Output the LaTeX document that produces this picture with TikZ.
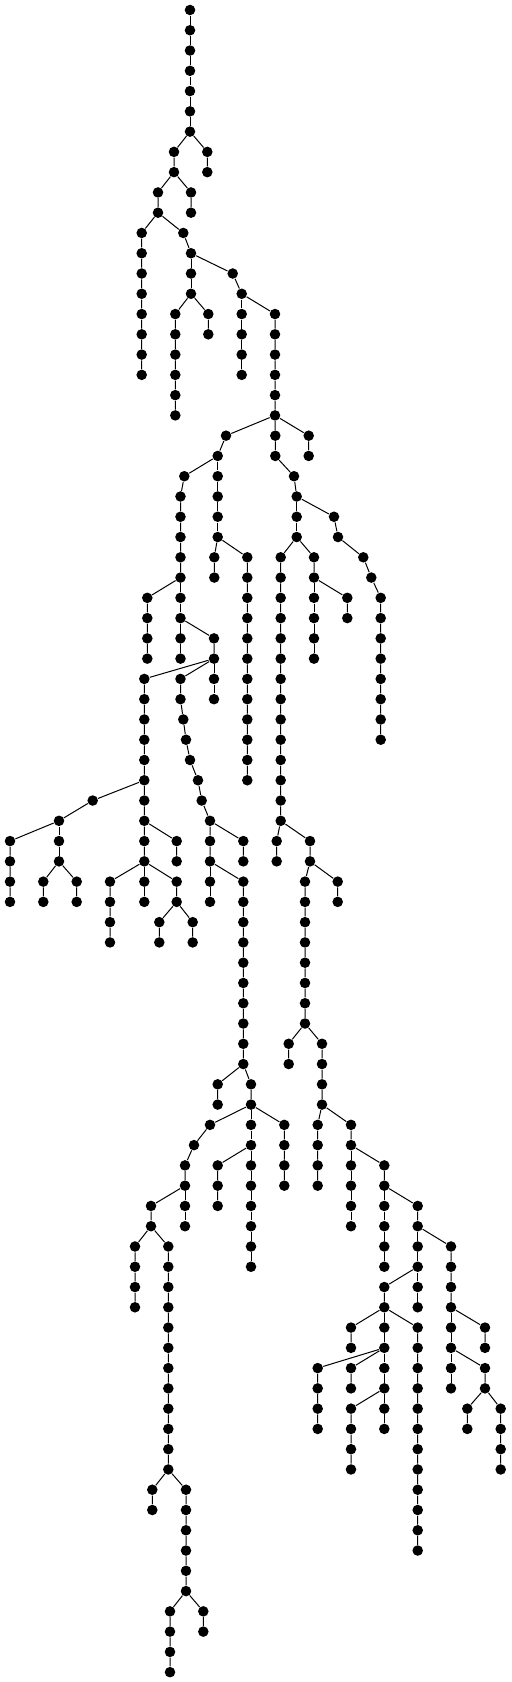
\documentclass[tikz,border=0pt]{standalone}
\usepackage{tikz}

\begin{document}
\begin{tikzpicture}[x=0.75pt, y=-15.2025pt, line width=0.75pt,
  vtx/.style={circle, fill=black, inner sep=0pt, minimum size=7.9pt}]

\useasboundingbox (0,-0.4933) rectangle (511,82.486);

\node[vtx] (r0) at (190,0) {};
\node[vtx] (r1) at (190,1) {};
\node[vtx] (r2) at (190,2) {};
\node[vtx] (r3) at (190,3) {};
\node[vtx] (r4) at (190,4) {};
\node[vtx] (r5) at (190,5) {};
\node[vtx] (r6) at (190,6) {};
\node[vtx] (ra7) at (174,7) {};
\node[vtx] (ra8) at (174,8) {};
\node[vtx] (rb7) at (207.3,7) {};
\node[vtx] (rb8) at (207.3,8) {};
\node[vtx] (rc9) at (158,9) {};
\node[vtx] (rc10) at (158,10) {};
\node[vtx] (rd9) at (191,9) {};
\node[vtx] (rd10) at (191,10) {};
\node[vtx] (re11) at (141.7,11) {};
\node[vtx] (re12) at (141.7,12) {};
\node[vtx] (re13) at (141.7,13) {};
\node[vtx] (re14) at (141.7,14) {};
\node[vtx] (re15) at (141.7,15) {};
\node[vtx] (re16) at (141.7,16) {};
\node[vtx] (re17) at (141.7,17) {};
\node[vtx] (re18) at (141.7,18) {};
\node[vtx] (rf11) at (183.3,11) {};
\node[vtx] (rf12) at (191,12) {};
\node[vtx] (rg13) at (191,13) {};
\node[vtx] (rg14) at (191,14) {};
\node[vtx] (rh15) at (175.3,15) {};
\node[vtx] (rh16) at (175.3,16) {};
\node[vtx] (rh17) at (175.3,17) {};
\node[vtx] (rh18) at (175.3,18) {};
\node[vtx] (rh19) at (175.3,19) {};
\node[vtx] (rh20) at (175.3,20) {};
\node[vtx] (ri15) at (208.3,15) {};
\node[vtx] (ri16) at (208.3,16) {};
\node[vtx] (rj13) at (232.7,13) {};
\node[vtx] (rj14) at (241.7,14) {};
\node[vtx] (rk15) at (241.7,15) {};
\node[vtx] (rk16) at (241.7,16) {};
\node[vtx] (rk17) at (241.7,17) {};
\node[vtx] (rk18) at (241.7,18) {};
\node[vtx] (rl15) at (275,15) {};
\node[vtx] (rl16) at (275,16) {};
\node[vtx] (rl17) at (275,17) {};
\node[vtx] (rl18) at (275,18) {};
\node[vtx] (rl19) at (275,19) {};
\node[vtx] (rl20) at (275,20) {};

\node[vtx] (la21) at (226,21) {};
\node[vtx] (la22) at (217.7,22) {};
\node[vtx] (lb23) at (217.7,23) {};
\node[vtx] (lb24) at (217.7,24) {};
\node[vtx] (lb25) at (217.7,25) {};
\node[vtx] (lb26) at (217.7,26) {};
\node[vtx] (lc27) at (214.3,27) {};
\node[vtx] (lc28) at (214.3,28) {};
\node[vtx] (ld27) at (247.3,27) {};
\node[vtx] (ld28) at (247.3,28) {};
\node[vtx] (ld29) at (247.3,29) {};
\node[vtx] (ld30) at (247.3,30) {};
\node[vtx] (ld31) at (247.3,31) {};
\node[vtx] (ld32) at (247.3,32) {};
\node[vtx] (ld33) at (247.3,33) {};
\node[vtx] (ld34) at (247.3,34) {};
\node[vtx] (ld35) at (247.3,35) {};
\node[vtx] (ld36) at (247.3,36) {};
\node[vtx] (ld37) at (247.3,37) {};
\node[vtx] (ld38) at (247.3,38) {};
\node[vtx] (le23) at (184.3,23) {};
\node[vtx] (le24) at (180.5,24) {};
\node[vtx] (le25) at (180.5,25) {};
\node[vtx] (le26) at (180.5,26) {};
\node[vtx] (le27) at (180.5,27) {};
\node[vtx] (le28) at (180.5,28) {};
\node[vtx] (lf29) at (147.3,29) {};
\node[vtx] (lf30) at (147.3,30) {};
\node[vtx] (lf31) at (147.3,31) {};
\node[vtx] (lf32) at (147.3,32) {};
\node[vtx] (lg29) at (180.5,29) {};
\node[vtx] (lg30) at (180.5,30) {};
\node[vtx] (lh31) at (180.5,31) {};
\node[vtx] (lh32) at (180.5,32) {};
\node[vtx] (li31) at (214,31) {};
\node[vtx] (li32) at (214,32) {};
\node[vtx] (lj33) at (214,33) {};
\node[vtx] (lj34) at (214,34) {};
\node[vtx] (lk33) at (144.3,33) {};
\node[vtx] (lk34) at (144.3,34) {};
\node[vtx] (lk35) at (144.3,35) {};
\node[vtx] (lk36) at (144.3,36) {};
\node[vtx] (lk37) at (144.3,37) {};
\node[vtx] (lk38) at (144.3,38) {};
\node[vtx] (lk39) at (144.3,39) {};
\node[vtx] (lk40) at (144.3,40) {};
\node[vtx] (lk41) at (144.3,41) {};
\node[vtx] (lk42) at (144.3,42) {};
\node[vtx] (ll39) at (92.7,39) {};
\node[vtx] (ll40) at (59,40) {};
\node[vtx] (lm41) at (10,41) {};
\node[vtx] (lm42) at (10,42) {};
\node[vtx] (lm43) at (10,43) {};
\node[vtx] (lm44) at (10,44) {};
\node[vtx] (ln41) at (59,41) {};
\node[vtx] (ln42) at (59,42) {};
\node[vtx] (lo43) at (43.3,43) {};
\node[vtx] (lo44) at (43.3,44) {};
\node[vtx] (lp43) at (76.7,43) {};
\node[vtx] (lp44) at (76.7,44) {};
\node[vtx] (lq41) at (176.7,41) {};
\node[vtx] (lq42) at (176.7,42) {};
\node[vtx] (lr43) at (110,43) {};
\node[vtx] (lr44) at (110,44) {};
\node[vtx] (lr45) at (110,45) {};
\node[vtx] (lr46) at (110,46) {};
\node[vtx] (ls43) at (144.3,43) {};
\node[vtx] (ls44) at (144.3,44) {};
\node[vtx] (lt43) at (176.7,43) {};
\node[vtx] (lt44) at (176.7,44) {};
\node[vtx] (lu45) at (159.3,45) {};
\node[vtx] (lu46) at (159.3,46) {};
\node[vtx] (lv45) at (192.7,45) {};
\node[vtx] (lv46) at (192.7,46) {};
\node[vtx] (lw33) at (180.5,33) {};
\node[vtx] (lw34) at (180.5,34) {};
\node[vtx] (lw35) at (183.3,35) {};
\node[vtx] (lw36) at (186,36) {};
\node[vtx] (lw37) at (190,37) {};
\node[vtx] (lw38) at (198,38) {};
\node[vtx] (lw39) at (201.7,39) {};
\node[vtx] (lw40) at (210,40) {};
\node[vtx] (lw41) at (210,41) {};
\node[vtx] (lw42) at (210,42) {};
\node[vtx] (lx41) at (243.3,41) {};
\node[vtx] (lx42) at (243.3,42) {};
\node[vtx] (ly43) at (210,43) {};
\node[vtx] (ly44) at (210,44) {};
\node[vtx] (lz43) at (243.3,43) {};
\node[vtx] (lz44) at (243.3,44) {};
\node[vtx] (lz45) at (243.3,45) {};
\node[vtx] (lz46) at (243.3,46) {};
\node[vtx] (lz47) at (243.3,47) {};
\node[vtx] (lz48) at (243.3,48) {};
\node[vtx] (lz49) at (243.3,49) {};
\node[vtx] (lz50) at (243.3,50) {};
\node[vtx] (lz51) at (243.3,51) {};
\node[vtx] (lz52) at (243.3,52) {};
\node[vtx] (ma53) at (217.7,53) {};
\node[vtx] (ma54) at (217.7,54) {};
\node[vtx] (mb53) at (251,53) {};
\node[vtx] (mb54) at (251,54) {};
\node[vtx] (mc55) at (210,55) {};
\node[vtx] (mc56) at (194,56) {};
\node[vtx] (mc57) at (185,57) {};
\node[vtx] (mc58) at (185,58) {};
\node[vtx] (md55) at (251,55) {};
\node[vtx] (md56) at (251,56) {};
\node[vtx] (me55) at (284.3,55) {};
\node[vtx] (me56) at (284.3,56) {};
\node[vtx] (me57) at (284.3,57) {};
\node[vtx] (me58) at (284.3,58) {};
\node[vtx] (mf57) at (217.7,57) {};
\node[vtx] (mf58) at (217.7,58) {};
\node[vtx] (mf59) at (217.7,59) {};
\node[vtx] (mg57) at (251,57) {};
\node[vtx] (mg58) at (251,58) {};
\node[vtx] (mg59) at (251,59) {};
\node[vtx] (mg60) at (251,60) {};
\node[vtx] (mg61) at (251,61) {};
\node[vtx] (mg62) at (251,62) {};
\node[vtx] (mh59) at (185,59) {};
\node[vtx] (mh60) at (185,60) {};
\node[vtx] (mi59) at (151,59) {};
\node[vtx] (mi60) at (151,60) {};
\node[vtx] (mj61) at (135,61) {};
\node[vtx] (mj62) at (135,62) {};
\node[vtx] (mj63) at (135,63) {};
\node[vtx] (mj64) at (135,64) {};
\node[vtx] (mk61) at (168.3,61) {};
\node[vtx] (mk62) at (168.3,62) {};
\node[vtx] (mk63) at (168.3,63) {};
\node[vtx] (mk64) at (168.3,64) {};
\node[vtx] (mk65) at (168.3,65) {};
\node[vtx] (mk66) at (168.3,66) {};
\node[vtx] (mk67) at (168.3,67) {};
\node[vtx] (mk68) at (168.3,68) {};
\node[vtx] (mk69) at (168.3,69) {};
\node[vtx] (mk70) at (168.3,70) {};
\node[vtx] (mk71) at (168.3,71) {};
\node[vtx] (mk72) at (168.3,72) {};
\node[vtx] (ml73) at (152.3,73) {};
\node[vtx] (ml74) at (152.3,74) {};
\node[vtx] (mm73) at (186,73) {};
\node[vtx] (mm74) at (186,74) {};
\node[vtx] (mm75) at (186,75) {};
\node[vtx] (mm76) at (186,76) {};
\node[vtx] (mm77) at (186,77) {};
\node[vtx] (mm78) at (186,78) {};
\node[vtx] (mn79) at (170,79) {};
\node[vtx] (mn80) at (170,80) {};
\node[vtx] (mn81) at (170,81) {};
\node[vtx] (mn82) at (170,82) {};
\node[vtx] (mo79) at (203.3,79) {};
\node[vtx] (mo80) at (203.3,80) {};

\node[vtx] (qa21) at (275.3,21) {};
\node[vtx] (qa22) at (275.3,22) {};
\node[vtx] (qb21) at (308.7,21) {};
\node[vtx] (qb22) at (308.7,22) {};
\node[vtx] (qc23) at (294,23) {};
\node[vtx] (qc24) at (296.7,24) {};
\node[vtx] (qd25) at (296.7,25) {};
\node[vtx] (qd26) at (296.7,26) {};
\node[vtx] (qe25) at (334,25) {};
\node[vtx] (qe26) at (338,26) {};
\node[vtx] (qe27) at (363.3,27) {};
\node[vtx] (qe28) at (371.3,28) {};
\node[vtx] (qf29) at (380.7,29) {};
\node[vtx] (qf30) at (380.7,30) {};
\node[vtx] (qf31) at (380.7,31) {};
\node[vtx] (qf32) at (380.7,32) {};
\node[vtx] (qf33) at (380.7,33) {};
\node[vtx] (qf34) at (380.7,34) {};
\node[vtx] (qf35) at (380.7,35) {};
\node[vtx] (qf36) at (380.7,36) {};
\node[vtx] (qg27) at (280.7,27) {};
\node[vtx] (qg28) at (280.7,28) {};
\node[vtx] (qg29) at (280.7,29) {};
\node[vtx] (qg30) at (280.7,30) {};
\node[vtx] (qg31) at (280.7,31) {};
\node[vtx] (qg32) at (280.7,32) {};
\node[vtx] (qg33) at (280.7,33) {};
\node[vtx] (qg34) at (280.7,34) {};
\node[vtx] (qg35) at (280.7,35) {};
\node[vtx] (qg36) at (280.7,36) {};
\node[vtx] (qg37) at (280.7,37) {};
\node[vtx] (qg38) at (280.7,38) {};
\node[vtx] (qg39) at (280.7,39) {};
\node[vtx] (qg40) at (280.7,40) {};
\node[vtx] (qh27) at (314,27) {};
\node[vtx] (qh28) at (314,28) {};
\node[vtx] (qi29) at (314,29) {};
\node[vtx] (qi30) at (314,30) {};
\node[vtx] (qi31) at (314,31) {};
\node[vtx] (qi32) at (314,32) {};
\node[vtx] (qj29) at (347.3,29) {};
\node[vtx] (qj30) at (347.3,30) {};
\node[vtx] (qk41) at (276.7,41) {};
\node[vtx] (qk42) at (276.7,42) {};
\node[vtx] (ql41) at (310,41) {};
\node[vtx] (ql42) at (310,42) {};
\node[vtx] (qm43) at (305,43) {};
\node[vtx] (qm44) at (305,44) {};
\node[vtx] (qm45) at (305,45) {};
\node[vtx] (qm46) at (305,46) {};
\node[vtx] (qm47) at (305,47) {};
\node[vtx] (qm48) at (305,48) {};
\node[vtx] (qm49) at (305,49) {};
\node[vtx] (qm50) at (305,50) {};
\node[vtx] (qn43) at (337.7,43) {};
\node[vtx] (qn44) at (337.7,44) {};
\node[vtx] (qo51) at (288.7,51) {};
\node[vtx] (qo52) at (288.7,52) {};
\node[vtx] (qp51) at (322,51) {};
\node[vtx] (qp52) at (322,52) {};
\node[vtx] (qp53) at (322,53) {};
\node[vtx] (qp54) at (322,54) {};
\node[vtx] (qq55) at (317.7,55) {};
\node[vtx] (qq56) at (317.7,56) {};
\node[vtx] (qq57) at (317.7,57) {};
\node[vtx] (qq58) at (317.7,58) {};
\node[vtx] (qr55) at (351,55) {};
\node[vtx] (qr56) at (351,56) {};
\node[vtx] (qs57) at (351,57) {};
\node[vtx] (qs58) at (351,58) {};
\node[vtx] (qs59) at (351,59) {};
\node[vtx] (qs60) at (351,60) {};
\node[vtx] (qt57) at (384.3,57) {};
\node[vtx] (qt58) at (384.3,58) {};
\node[vtx] (qu59) at (384.3,59) {};
\node[vtx] (qu60) at (384.3,60) {};
\node[vtx] (qu61) at (384.3,61) {};
\node[vtx] (qu62) at (384.3,62) {};
\node[vtx] (qv59) at (417.7,59) {};
\node[vtx] (qv60) at (417.7,60) {};
\node[vtx] (qw61) at (417.7,61) {};
\node[vtx] (qw62) at (417.7,62) {};
\node[vtx] (qx61) at (451,61) {};
\node[vtx] (qx62) at (451,62) {};
\node[vtx] (qx63) at (451,63) {};
\node[vtx] (qx64) at (451,64) {};
\node[vtx] (qy63) at (417.7,63) {};
\node[vtx] (qy64) at (417.7,64) {};
\node[vtx] (qz63) at (384.3,63) {};
\node[vtx] (qz64) at (384.3,64) {};
\node[vtx] (sa65) at (351,65) {};
\node[vtx] (sa66) at (351,66) {};
\node[vtx] (sb65) at (384.3,65) {};
\node[vtx] (sb66) at (384.3,66) {};
\node[vtx] (sc65) at (417.7,65) {};
\node[vtx] (sc66) at (417.7,66) {};
\node[vtx] (sc67) at (417.7,67) {};
\node[vtx] (sc68) at (417.7,68) {};
\node[vtx] (sc69) at (417.7,69) {};
\node[vtx] (sc70) at (417.7,70) {};
\node[vtx] (sc71) at (417.7,71) {};
\node[vtx] (sc72) at (417.7,72) {};
\node[vtx] (sc73) at (417.7,73) {};
\node[vtx] (sc74) at (417.7,74) {};
\node[vtx] (sc75) at (417.7,75) {};
\node[vtx] (sc76) at (417.7,76) {};
\node[vtx] (sd67) at (317.7,67) {};
\node[vtx] (sd68) at (317.7,68) {};
\node[vtx] (sd69) at (317.7,69) {};
\node[vtx] (sd70) at (317.7,70) {};
\node[vtx] (se67) at (351,67) {};
\node[vtx] (se68) at (351,68) {};
\node[vtx] (sf67) at (384.3,67) {};
\node[vtx] (sf68) at (384.3,68) {};
\node[vtx] (sg69) at (351,69) {};
\node[vtx] (sg70) at (351,70) {};
\node[vtx] (sg71) at (351,71) {};
\node[vtx] (sg72) at (351,72) {};
\node[vtx] (sh69) at (384.3,69) {};
\node[vtx] (sh70) at (384.3,70) {};
\node[vtx] (si65) at (485,65) {};
\node[vtx] (si66) at (485,66) {};
\node[vtx] (sj65) at (451,65) {};
\node[vtx] (sj66) at (451,66) {};
\node[vtx] (sk67) at (451,67) {};
\node[vtx] (sk68) at (451,68) {};
\node[vtx] (sl67) at (485,67) {};
\node[vtx] (sl68) at (485,68) {};
\node[vtx] (sm69) at (467.3,69) {};
\node[vtx] (sm70) at (467.3,70) {};
\node[vtx] (sn69) at (500.7,69) {};
\node[vtx] (sn70) at (500.7,70) {};
\node[vtx] (sn71) at (500.7,71) {};
\node[vtx] (sn72) at (500.7,72) {};

\draw (r0) -- (r1) -- (r2) -- (r3) -- (r4) -- (r5) -- (r6);
\draw (r6) -- (ra7) -- (ra8);
\draw (r6) -- (rb7) -- (rb8);
\draw (ra8) -- (rc9) -- (rc10);
\draw (ra8) -- (rd9) -- (rd10);
\draw (rc10) -- (re11) -- (re12) -- (re13) -- (re14) -- (re15) -- (re16) -- (re17) -- (re18);
\draw (rc10) -- (rf11) -- (rf12);
\draw (rf12) -- (rg13) -- (rg14);
\draw (rg14) -- (rh15) -- (rh16) -- (rh17) -- (rh18) -- (rh19) -- (rh20);
\draw (rg14) -- (ri15) -- (ri16);
\draw (rf12) -- (rj13) -- (rj14);
\draw (rj14) -- (rk15) -- (rk16) -- (rk17) -- (rk18);
\draw (rj14) -- (rl15) -- (rl16) -- (rl17) -- (rl18) -- (rl19) -- (rl20);

\draw (rl20) -- (la21) -- (la22);
\draw (la22) -- (lb23) -- (lb24) -- (lb25) -- (lb26);
\draw (lb26) -- (lc27) -- (lc28);
\draw (lb26) -- (ld27) -- (ld28) -- (ld29) -- (ld30) -- (ld31) -- (ld32) -- (ld33) -- (ld34) -- (ld35) -- (ld36) -- (ld37) -- (ld38);
\draw (la22) -- (le23) -- (le24) -- (le25) -- (le26) -- (le27) -- (le28);
\draw (le28) -- (lf29) -- (lf30) -- (lf31) -- (lf32);
\draw (le28) -- (lg29) -- (lg30);
\draw (lg30) -- (lh31) -- (lh32);
\draw (lg30) -- (li31) -- (li32);
\draw (li32) -- (lk33) -- (lk34) -- (lk35) -- (lk36) -- (lk37) -- (lk38) -- (lk39) -- (lk40) -- (lk41) -- (lk42);
\draw (li32) -- (lw33) -- (lw34) -- (lw35) -- (lw36) -- (lw37) -- (lw38) -- (lw39) -- (lw40) -- (lw41) -- (lw42);
\draw (li32) -- (lj33) -- (lj34);
\draw (lk38) -- (ll39) -- (ll40);
\draw (ll40) -- (lm41) -- (lm42) -- (lm43) -- (lm44);
\draw (ll40) -- (ln41) -- (ln42);
\draw (ln42) -- (lo43) -- (lo44);
\draw (ln42) -- (lp43) -- (lp44);
\draw (lk40) -- (lq41) -- (lq42);
\draw (lk42) -- (lr43) -- (lr44) -- (lr45) -- (lr46);
\draw (lk42) -- (ls43) -- (ls44);
\draw (lk42) -- (lt43) -- (lt44);
\draw (lt44) -- (lu45) -- (lu46);
\draw (lt44) -- (lv45) -- (lv46);
\draw (lw40) -- (lx41) -- (lx42);
\draw (lw42) -- (ly43) -- (ly44);
\draw (lw42) -- (lz43) -- (lz44) -- (lz45) -- (lz46) -- (lz47) -- (lz48) -- (lz49) -- (lz50) -- (lz51) -- (lz52);
\draw (lz52) -- (ma53) -- (ma54);
\draw (lz52) -- (mb53) -- (mb54);
\draw (mb54) -- (mc55) -- (mc56) -- (mc57) -- (mc58);
\draw (mb54) -- (md55) -- (md56);
\draw (mb54) -- (me55) -- (me56) -- (me57) -- (me58);
\draw (md56) -- (mf57) -- (mf58) -- (mf59);
\draw (md56) -- (mg57) -- (mg58) -- (mg59) -- (mg60) -- (mg61) -- (mg62);
\draw (mc58) -- (mh59) -- (mh60);
\draw (mc58) -- (mi59) -- (mi60);
\draw (mi60) -- (mj61) -- (mj62) -- (mj63) -- (mj64);
\draw (mi60) -- (mk61) -- (mk62) -- (mk63) -- (mk64) -- (mk65) -- (mk66) -- (mk67) -- (mk68) -- (mk69) -- (mk70) -- (mk71) -- (mk72);
\draw (mk72) -- (ml73) -- (ml74);
\draw (mk72) -- (mm73) -- (mm74) -- (mm75) -- (mm76) -- (mm77) -- (mm78);
\draw (mm78) -- (mn79) -- (mn80) -- (mn81) -- (mn82);
\draw (mm78) -- (mo79) -- (mo80);

\draw (rl20) -- (qa21) -- (qa22) -- (qc23) -- (qc24);
\draw (rl20) -- (qb21) -- (qb22);
\draw (qc24) -- (qd25) -- (qd26);
\draw (qc24) -- (qe25) -- (qe26) -- (qe27) -- (qe28) -- (qf29) -- (qf30) -- (qf31) -- (qf32) -- (qf33) -- (qf34) -- (qf35) -- (qf36);
\draw (qd26) -- (qg27) -- (qg28) -- (qg29) -- (qg30) -- (qg31) -- (qg32) -- (qg33) -- (qg34) -- (qg35) -- (qg36) -- (qg37) -- (qg38) -- (qg39) -- (qg40);
\draw (qd26) -- (qh27) -- (qh28);
\draw (qh28) -- (qi29) -- (qi30) -- (qi31) -- (qi32);
\draw (qh28) -- (qj29) -- (qj30);
\draw (qg40) -- (qk41) -- (qk42);
\draw (qg40) -- (ql41) -- (ql42);
\draw (ql42) -- (qm43) -- (qm44) -- (qm45) -- (qm46) -- (qm47) -- (qm48) -- (qm49) -- (qm50);
\draw (ql42) -- (qn43) -- (qn44);
\draw (qm50) -- (qo51) -- (qo52);
\draw (qm50) -- (qp51) -- (qp52) -- (qp53) -- (qp54);
\draw (qp54) -- (qq55) -- (qq56) -- (qq57) -- (qq58);
\draw (qp54) -- (qr55) -- (qr56);
\draw (qr56) -- (qs57) -- (qs58) -- (qs59) -- (qs60);
\draw (qr56) -- (qt57) -- (qt58);
\draw (qt58) -- (qu59) -- (qu60) -- (qu61) -- (qu62);
\draw (qt58) -- (qv59) -- (qv60);
\draw (qv60) -- (qw61) -- (qw62);
\draw (qv60) -- (qx61) -- (qx62) -- (qx63) -- (qx64);
\draw (qw62) -- (qy63) -- (qy64);
\draw (qw62) -- (qz63) -- (qz64);
\draw (qz64) -- (sa65) -- (sa66);
\draw (qz64) -- (sb65) -- (sb66);
\draw (qz64) -- (sc65) -- (sc66) -- (sc67) -- (sc68) -- (sc69) -- (sc70) -- (sc71) -- (sc72) -- (sc73) -- (sc74) -- (sc75) -- (sc76);
\draw (sb66) -- (sd67) -- (sd68) -- (sd69) -- (sd70);
\draw (sb66) -- (se67) -- (se68);
\draw (sb66) -- (sf67) -- (sf68);
\draw (sf68) -- (sg69) -- (sg70) -- (sg71) -- (sg72);
\draw (sf68) -- (sh69) -- (sh70);
\draw (qx64) -- (si65) -- (si66);
\draw (qx64) -- (sj65) -- (sj66);
\draw (sj66) -- (sk67) -- (sk68);
\draw (sj66) -- (sl67) -- (sl68);
\draw (sl68) -- (sm69) -- (sm70);
\draw (sl68) -- (sn69) -- (sn70) -- (sn71) -- (sn72);

\end{tikzpicture}
\end{document}
